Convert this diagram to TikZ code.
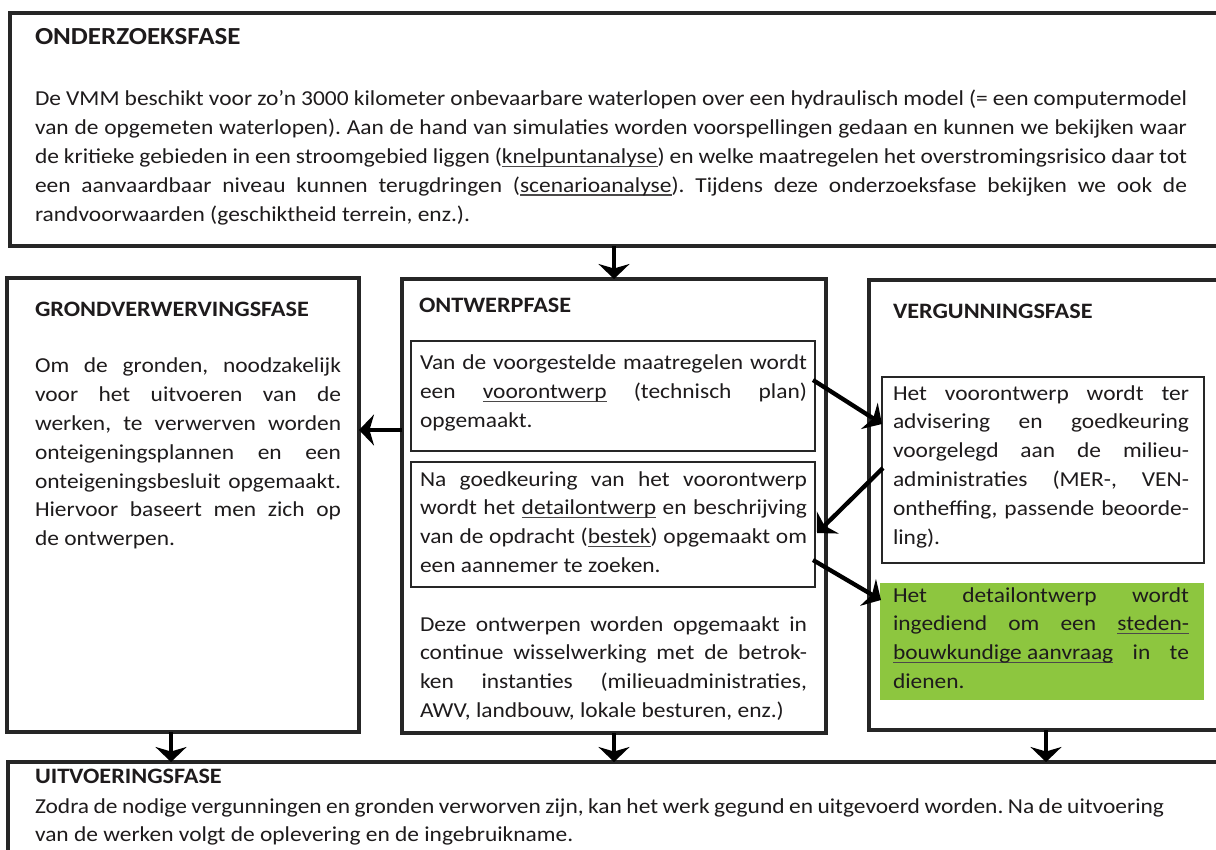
\documentclass[tikz,border=0pt]{standalone}
\usepackage{fontspec}
\setmainfont{Carlito}[FakeStretch=1.1]
\usetikzlibrary{arrows.meta,calc}
\definecolor{ink}{HTML}{1E1B1C}
\definecolor{edge}{HTML}{262626}
\definecolor{leaf}{HTML}{8DC63F}
\frenchspacing
\newsavebox\ulbox
\newcommand\ulw[1]{\sbox\ulbox{#1}\rlap{\color{ink!80}\rule[-3.2pt]{\wd\ulbox}{1.1pt}}\usebox\ulbox}
\newcommand\jl[1]{\makebox[\hsize][s]{#1}\par}
\newcommand\tb[2]{\parbox[t]{#1}{\parindent=0pt\parskip=0pt #2}}
\newcommand\bodyfont{\fontsize{21.3}{28.8}\selectfont}
\newcommand\titlefont{\fontsize{22}{26}\selectfont\bfseries}
\tikzset{
  frame/.style={draw=edge, line width=3.3pt, inner sep=0pt, outer sep=0pt, anchor=north west},
  inbox/.style={draw=edge, line width=2.9pt, inner sep=0pt, outer sep=0pt, anchor=north west},
  greenbox/.style={fill=leaf, draw=none, inner sep=0pt, outer sep=0pt, anchor=north west},
  txt/.style={inner sep=0pt, outer sep=0pt, anchor=base west, text=ink, font=\bodyfont},
  ttl/.style={inner sep=0pt, outer sep=0pt, anchor=base west, text=ink, font=\titlefont},
  arr/.style={draw=black, line width=4.3pt, -{Stealth[length=15pt,width=31pt,inset=4.5pt]}}
}
\begin{document}
\begin{tikzpicture}[x=1pt,y=-1pt]
\useasboundingbox (0,0) rectangle (1216,850);
\clip (0,0) rectangle (1216,850);
\fill[white] (0,0) rectangle (1216,850);

% boxes
\node[frame, minimum width=1240pt, minimum height=233pt] (top) at (10,13) {};
\node[frame, minimum width=352pt, minimum height=454pt] (left) at (7,278) {};
\node[frame, minimum width=424pt, minimum height=454pt] (mid) at (402,279) {};
\node[frame, minimum width=370pt, minimum height=450pt] (right) at (869,280) {};
\node[inbox, minimum width=404pt, minimum height=110pt] (mid1) at (411,341) {};
\node[inbox, minimum width=404pt, minimum height=125pt] (mid2) at (411,462) {};
\node[inbox, minimum width=322pt, minimum height=186pt] (rin) at (882,377) {};
\node[greenbox, minimum width=324pt, minimum height=117pt] (green) at (880,583) {};
\node[frame, minimum width=1240pt, minimum height=130pt] (bottom) at (8,762) {};

% top text
\node[ttl, font=\fontsize{24.5}{28}\selectfont\bfseries] (ttop) at (35,45) {ONDERZOEKSFASE};
\node[txt] (btop) at (35,106) {\tb{1152pt}{%
\jl{De VMM beschikt voor zo’n 3000 kilometer onbevaarbare waterlopen over een hydraulisch model (= een computermodel}
\jl{van de opgemeten waterlopen). Aan de hand van simulaties worden voorspellingen gedaan en kunnen we bekijken waar}
\jl{de kritieke gebieden in een stroomgebied liggen (\ulw{knelpuntanalyse}) en welke maatregelen het overstromingsrisico daar tot}
\jl{een aanvaardbaar niveau kunnen terugdringen (\ulw{scenarioanalyse}). Tijdens deze onderzoeksfase bekijken we ook de}
randvoorwaarden (geschiktheid terrein, enz.).}};

% left text
\node[ttl] (tleft) at (35,317) {GRONDVERWERVINGSFASE};
\node[txt] (bleft) at (35,373) {\tb{306pt}{%
\jl{Om de gronden, noodzakelijk}
\jl{voor het uitvoeren van de}
\jl{werken, te verwerven worden}
\jl{onteigeningsplannen en een}
\jl{onteigeningsbesluit opgemaakt.}
\jl{Hiervoor baseert men zich op}
de ontwerpen.}};

% middle text
\node[ttl] (tmid) at (419,313) {ONTWERPFASE};
\node[txt] (bmid1) at (420,370) {\tb{387pt}{%
\jl{Van de voorgestelde maatregelen wordt}
\jl{een \ulw{voorontwerp} (technisch plan)}
opgemaakt.}};
\node[txt] (bmid2) at (420,486) {\tb{387pt}{%
\jl{Na goedkeuring van het voorontwerp}
\jl{wordt het \ulw{detailontwerp} en beschrijving}
\jl{van de opdracht (\ulw{bestek}) opgemaakt om}
een aannemer te zoeken.}};
\node[txt] (bmid3) at (420,631) {\tb{387pt}{%
\jl{Deze ontwerpen worden opgemaakt in}
\jl{continue wisselwerking met de betrok-}
\jl{ken instanties (milieuadministraties,}
AWV, landbouw, lokale besturen, enz.)}};

% right text
\node[ttl] (tright) at (893,319) {VERGUNNINGSFASE};
\node[txt] (brin) at (893,400) {\tb{296pt}{%
\jl{Het voorontwerp wordt ter}
\jl{advisering en goedkeuring}
\jl{voorgelegd aan de milieu-}
\jl{administraties (MER-, VEN-}
\jl{ontheffing, passende beoorde-}
ling).}};
\node[txt] (bgreen) at (893,602) {\tb{296pt}{%
\jl{Het detailontwerp wordt}
\jl{ingediend om een \ulw{steden-}}
\jl{\ulw{bouwkundige aanvraag} in te}
dienen.}};

% bottom text
\node[ttl] (tbot) at (35,783) {UITVOERINGSFASE};
\node[txt] (bbot) at (35,813) {\tb{1129pt}{%
\jl{Zodra de nodige vergunningen en gronden verworven zijn, kan het werk gegund en uitgevoerd worden. Na de uitvoering}
van de werken volgt de oplevering en de ingebruikname.}};

% connectors
\coordinate (ya) at (0,430);
\coordinate (xl) at (171,0);
\coordinate (xr) at (1046,0);
\draw[arr] (top.south -| mid.north) -- (mid.north);
\draw[arr] (mid.west |- ya) -- (left.east |- ya);
\draw[arr] ($(mid1.north east)+(-2,39)$) -- ($(rin.north west)+(0,47)$);
\draw[arr] ($(rin.north west)+(1,91)$) -- ($(mid2.north east)+(2,71)$);
\draw[arr] ($(mid2.north east)+(-2,98)$) -- ($(green.north west)+(1,17)$);
\draw[arr] (left.south -| xl) -- (bottom.north -| xl);
\draw[arr] (mid.south) -- (bottom.north -| mid.south);
\draw[arr] (right.south -| xr) -- (bottom.north -| xr);
\end{tikzpicture}
\end{document}
